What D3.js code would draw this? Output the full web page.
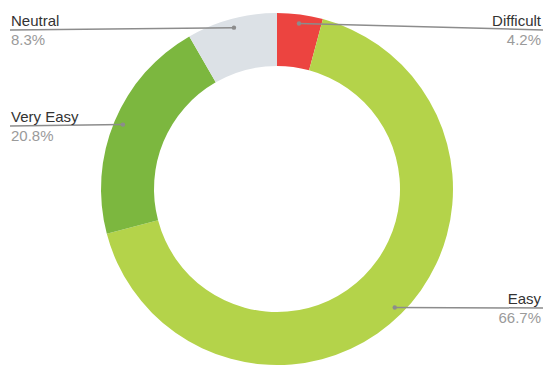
<!DOCTYPE html>
<html>
<head>
<meta charset="utf-8">
<script src="https://cdn.jsdelivr.net/npm/d3@7"></script>
<style>
  html, body { margin: 0; padding: 0; background: #fff; }
  svg { display: block; }
  text { font-family: "Liberation Sans", Arial, sans-serif; }
</style>
</head>
<body>
<svg id="chart" width="543" height="366"></svg>
<script>
// Survey answers, clockwise from 12 o'clock
const categories = ["Difficult", "Easy", "Very Easy", "Neutral"];
const shares = [4.2, 66.7, 20.8, 8.3];
const colors = ["#EC4440", "#B4D34A", "#7CB73F", "#DCE1E6"];

const W = 543, H = 366;
const cx = 277, cy = 189;
const outerR = 176, innerR = 123, dotR = 167;

// Where each callout label sits: side and line height
const labelSpots = {
  "Difficult": { side: "right", y: 30 },
  "Easy":      { side: "right", y: 308 },
  "Very Easy": { side: "left",  y: 126 },
  "Neutral":   { side: "left",  y: 30 }
};

const svg = d3.select("#chart");
const g = svg.append("g").attr("transform", `translate(${cx},${cy})`);

const data = categories.map((c, i) => ({ name: c, value: shares[i], color: colors[i] }));

const pie = d3.pie().value(d => d.value).sort(null);
const arcs = pie(data);

const arc = d3.arc().innerRadius(innerR).outerRadius(outerR);
const dotArc = d3.arc().innerRadius(dotR).outerRadius(dotR);

g.selectAll("path.slice")
  .data(arcs)
  .join("path")
  .attr("class", "slice")
  .attr("d", arc)
  .attr("fill", d => d.data.color);

// Leader lines with dots
const lineColor = "#8c8c8c";
arcs.forEach(a => {
  const [dx, dy] = dotArc.centroid(a);
  const px = cx + dx, py = cy + dy;
  const spot = labelSpots[a.data.name];
  const ex = spot.side === "right" ? W : 10;
  svg.append("line")
    .attr("x1", px).attr("y1", py)
    .attr("x2", ex).attr("y2", spot.y)
    .attr("stroke", lineColor)
    .attr("stroke-width", 1.5);
  svg.append("circle")
    .attr("cx", px).attr("cy", py).attr("r", 2.2)
    .attr("fill", lineColor);

  const tx = spot.side === "right" ? 541 : 11;
  const anchor = spot.side === "right" ? "end" : "start";
  svg.append("text")
    .attr("x", tx).attr("y", spot.y - 4)
    .attr("text-anchor", anchor)
    .attr("font-size", 15)
    .attr("fill", "#333")
    .text(a.data.name);
  svg.append("text")
    .attr("x", tx).attr("y", spot.y + 15)
    .attr("text-anchor", anchor)
    .attr("font-size", 15)
    .attr("fill", "#9a9a9a")
    .text(d3.format(".1f")(a.data.value) + "%");
});
</script>
</body>
</html>
